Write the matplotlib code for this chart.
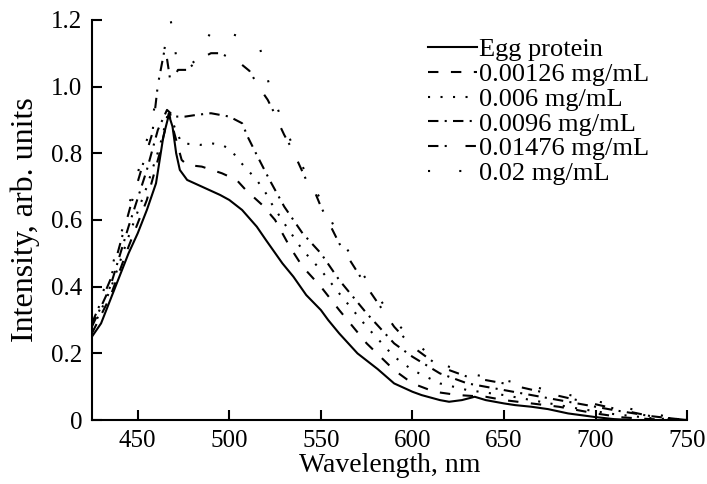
import matplotlib

matplotlib.use("Agg")
import matplotlib.pyplot as plt

plt.rcParams["font.family"] = ["Liberation Serif", "DejaVu Serif"]


# ==========================
# Data
# ==========================

labels = ["Egg protein", "0.00126 mg/mL", "0.006 mg/mL", "0.0096 mg/mL",
          "0.01476 mg/mL", "0.02 mg/mL"]

wl_egg = [425, 430, 435, 440, 445, 450, 455, 460, 464, 467, 469, 471, 473, 477,
          485, 495, 500, 507, 515, 520, 529, 535, 542, 550, 554, 560, 570, 581,
          590, 600, 605, 615, 620, 627, 634, 640, 650, 656, 665, 674, 685, 700,
          710, 720, 750]
int_egg = [0.25, 0.29, 0.36, 0.43, 0.50, 0.56, 0.63, 0.71, 0.85, 0.915, 0.88,
           0.80, 0.75, 0.72, 0.70, 0.675, 0.66, 0.63, 0.58, 0.54, 0.47, 0.43,
           0.375, 0.33, 0.30, 0.26, 0.20, 0.153, 0.11, 0.085, 0.075, 0.06, 0.055,
           0.06, 0.07, 0.06, 0.05, 0.045, 0.04, 0.033, 0.02, 0.009, 0.003, 0.0,
           0.0]

wl_c1 = [425, 435, 445, 455, 462, 467, 470, 474, 477, 485, 496, 504, 509, 518,
         525, 533, 540, 550, 560, 575, 590, 600, 612, 625, 640, 650, 665, 680,
         700, 715, 730, 750]
int_c1 = [0.26, 0.37, 0.52, 0.66, 0.80, 0.92, 0.86, 0.78, 0.765, 0.76, 0.74,
          0.72, 0.69, 0.645, 0.60, 0.52, 0.46, 0.40, 0.33, 0.23, 0.15, 0.11,
          0.085, 0.075, 0.07, 0.06, 0.05, 0.04, 0.02, 0.008, 0.003, 0.0]

wl_c2 = [425, 435, 445, 455, 462, 467, 470, 474, 484, 490, 496, 501, 505, 515,
         520, 523, 530, 540, 550, 560, 575, 590, 600, 615, 630, 650, 670, 690,
         710, 730, 750]
int_c2 = [0.27, 0.39, 0.55, 0.70, 0.82, 0.93, 0.88, 0.83, 0.825, 0.83, 0.825,
          0.81, 0.78, 0.72, 0.68, 0.65, 0.59, 0.51, 0.45, 0.38, 0.28, 0.19,
          0.15, 0.11, 0.09, 0.075, 0.055, 0.035, 0.018, 0.006, 0.0]

wl_c3 = [425, 435, 445, 455, 461, 466, 470, 476, 482, 490, 500, 507, 510, 515,
         522, 530, 540, 550, 560, 575, 590, 600, 615, 630, 650, 670, 690, 710,
         730, 745, 750]
int_c3 = [0.28, 0.40, 0.58, 0.75, 0.87, 0.93, 0.91, 0.91, 0.915, 0.92, 0.91,
          0.89, 0.85, 0.795, 0.72, 0.64, 0.56, 0.50, 0.42, 0.32, 0.23, 0.19,
          0.14, 0.11, 0.09, 0.07, 0.05, 0.03, 0.012, 0.003, 0.0]

wl_c4 = [425, 435, 440, 446, 453, 458, 461, 465, 468, 472, 477, 483, 490, 495,
         505, 511, 516, 521, 524, 527, 530, 533, 537, 542, 547, 550, 560, 575,
         590, 600, 615, 630, 650, 670, 690, 710, 730, 745, 750]
int_c4 = [0.29, 0.42, 0.52, 0.64, 0.77, 0.86, 1.005, 1.12, 1.01, 1.05, 1.05,
          1.08, 1.10, 1.10, 1.074, 1.047, 1.0, 0.96, 0.927, 0.89, 0.855, 0.825,
          0.78, 0.72, 0.68, 0.64, 0.53, 0.40, 0.28, 0.22, 0.16, 0.13, 0.11,
          0.085, 0.06, 0.035, 0.012, 0.003, 0.0]

wl_c5 = [425, 435, 445, 452, 458, 463, 466, 468, 471, 475, 482, 491, 500, 511,
         517, 522, 530, 540, 550, 560, 575, 590, 600, 615, 630, 650, 670, 690,
         710, 730, 745, 750]
int_c5 = [0.30, 0.44, 0.64, 0.78, 0.90, 1.07, 1.15, 1.20, 1.09, 1.05, 1.08,
          1.175, 1.16, 1.14, 1.11, 1.0, 0.88, 0.76, 0.66, 0.55, 0.42, 0.30,
          0.24, 0.17, 0.14, 0.12, 0.095, 0.07, 0.045, 0.02, 0.005, 0.0]

series = [(wl_egg, int_egg), (wl_c1, int_c1), (wl_c2, int_c2),
          (wl_c3, int_c3), (wl_c4, int_c4), (wl_c5, int_c5)]

styles = ["-", (0, (5, 6)), (0, (1, 5)), (0, (5, 3, 1, 3)),
          (0, (5, 3, 1, 9)), (0, (1, 14))]


# ==========================
# Plot
# ==========================

fig = plt.figure(figsize=(7.07, 4.84), dpi=100)
ax = fig.add_axes([0.130, 0.132, 0.842, 0.827])

for (x, y), ls, lab in zip(series, styles, labels):
    ax.plot(x, y, color="black", linestyle=ls, linewidth=1.5, label=lab)

ax.set_xlim(425, 750)
ax.set_ylim(0, 1.2)
ax.set_xticks([450, 500, 550, 600, 650, 700, 750])
ax.set_yticks([0, 0.2, 0.4, 0.6, 0.8, 1.0, 1.2])
ax.set_yticklabels(["0", "0.2", "0.4", "0.6", "0.8", "1.0", "1.2"])

ax.spines["top"].set_visible(False)
ax.spines["right"].set_visible(False)
ax.spines["left"].set_linewidth(1.5)
ax.spines["bottom"].set_linewidth(1.5)
ax.tick_params(direction="in", length=7, width=1.5, labelsize=18, pad=7)

ax.set_xlabel("Wavelength, nm", fontsize=20, labelpad=1)
ax.set_ylabel("Intensity, arb. units", fontsize=23, labelpad=8)

ax.legend(loc="upper left", bbox_to_anchor=(0.565, 0.955), frameon=False,
          fontsize=19, handlelength=1.85, handletextpad=0.08,
          labelspacing=0.05, borderpad=0, borderaxespad=0)

fig.savefig("out.png", dpi=100)
